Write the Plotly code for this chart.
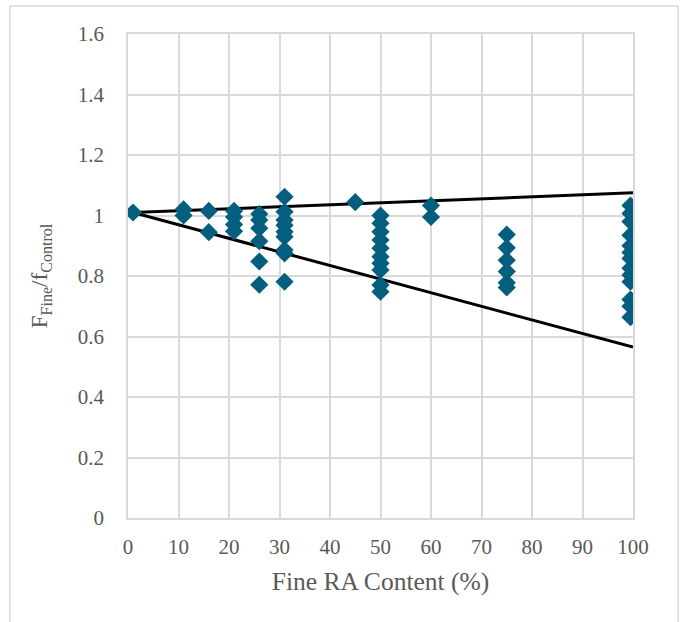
import plotly.graph_objects as go

# Data
fine_ra_content = [1,
                   11, 11,
                   16, 16,
                   21, 21, 21, 21,
                   26, 26, 26, 26, 26, 26,
                   31, 31, 31, 31, 31, 31, 31, 31, 31,
                   45,
                   50, 50, 50, 50, 50, 50, 50, 50, 50, 50,
                   60, 60,
                   75, 75, 75, 75, 75, 75,
                   99.5, 99.5, 99.5, 99.5, 99.5, 99.5, 99.5, 99.5, 99.5, 99.5, 99.5, 99.5, 99.5]
ratio = [1.01,
         1.02, 1.00,
         1.015, 0.945,
         1.015, 0.995, 0.97, 0.948,
         1.005, 0.985, 0.958, 0.915, 0.848, 0.771,
         1.062, 1.012, 0.985, 0.968, 0.946, 0.93, 0.886, 0.875, 0.781,
         1.044,
         1.0, 0.974, 0.946, 0.919, 0.892, 0.864, 0.842, 0.82, 0.77, 0.748,
         1.033, 0.995,
         0.937, 0.893, 0.852, 0.815, 0.778, 0.762,
         1.033, 1.007, 0.98, 0.935, 0.9, 0.878, 0.858, 0.826, 0.803, 0.781, 0.722, 0.70, 0.664]

upper_x = [1, 100]
upper_y = [1.01, 1.075]
lower_x = [1, 100]
lower_y = [1.01, 0.565]

x_ticks = [0, 10, 20, 30, 40, 50, 60, 70, 80, 90, 100]
y_ticks = [0, 0.2, 0.4, 0.6, 0.8, 1.0, 1.2, 1.4, 1.6]
y_tick_labels = ["0", "0.2", "0.4", "0.6", "0.8", "1", "1.2", "1.4", "1.6"]

FONT = "Liberation Serif, Times New Roman, serif"
TXT = "#595959"
GRID = "#d9d9d9"

fig = go.Figure()
fig.add_trace(go.Scatter(x=upper_x, y=upper_y, mode="lines",
                         line=dict(color="black", width=3), showlegend=False,
                         hoverinfo="skip"))
fig.add_trace(go.Scatter(x=lower_x, y=lower_y, mode="lines",
                         line=dict(color="black", width=3), showlegend=False,
                         hoverinfo="skip"))
fig.add_trace(go.Scatter(x=fine_ra_content, y=ratio, mode="markers",
                         marker=dict(symbol="diamond", size=14, color="#045f7f",
                                     line=dict(width=0)),
                         showlegend=False))

fig.update_layout(
    width=683, height=622, autosize=False,
    margin=dict(l=128, r=50, t=34, b=104),
    paper_bgcolor="white", plot_bgcolor="white",
    font=dict(family=FONT, color=TXT, size=21),
    xaxis=dict(range=[0, 100], tickvals=x_ticks, showgrid=True, gridcolor=GRID,
               gridwidth=1.5, zeroline=False, showline=True, linecolor=GRID,
               linewidth=1.5, mirror=True, ticks="", ticklabelstandoff=9,
               tickfont=dict(size=21, family=FONT, color=TXT),
               title=dict(text="Fine RA Content (%)", font=dict(size=25.5, family=FONT, color=TXT),
                          standoff=14)),
    yaxis=dict(range=[0, 1.6], tickvals=y_ticks, ticktext=y_tick_labels, showgrid=True,
               gridcolor=GRID, gridwidth=1.5, zeroline=False, showline=True,
               linecolor=GRID, linewidth=1.5, mirror=True, ticks="",
               ticklabelstandoff=18,
               tickfont=dict(size=21, family=FONT, color=TXT),
               title=dict(text="F<sub>Fine</sub>/f<sub>Control</sub>",
                          font=dict(size=23, family=FONT, color=TXT), standoff=24)),
    shapes=[dict(type="rect", xref="paper", yref="paper",
                 x0=(10 - 128) / 505, x1=(678 - 128) / 505,
                 y0=(518 - 640) / 484, y1=(518 - 6) / 484,
                 line=dict(color="#d9d9d9", width=1.5), layer="below")],
)

fig.write_html("out.html")
